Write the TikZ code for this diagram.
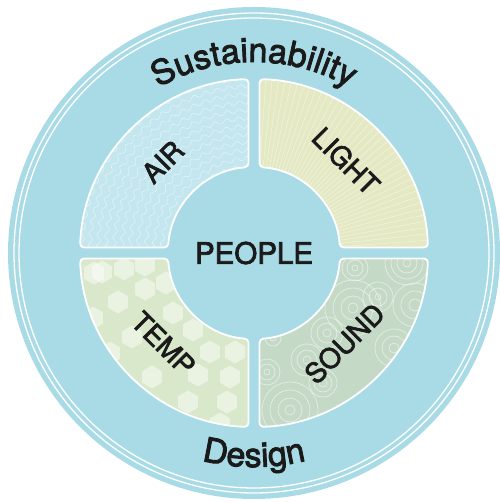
\documentclass[tikz,border=0pt]{standalone}
\usepackage{fontspec}
\setmainfont{TeX Gyre Heros}
\newfontfamily\heavy{TeX Gyre Heros}[FakeBold=2.5]
\usetikzlibrary{decorations.text,decorations.pathmorphing,calc}
\definecolor{outerblue}{HTML}{A9DBE6}
\definecolor{airc}{HTML}{C4E6EF}
\definecolor{lightc}{HTML}{E4E9C3}
\definecolor{tempc}{HTML}{D9E8CB}
\definecolor{soundc}{HTML}{C4D9C6}
\definecolor{textc}{HTML}{1A1A1A}
\tikzset{
  sectorpath/.style={insert path={
    ($({#1+3.67}:86)!0.5!({#1+1.81}:174)$) -- ({#1+1.81}:174)
    arc[start angle={#1+1.81}, end angle={#1+88.19}, radius=174]
    -- ({#1+86.33}:86)
    arc[start angle={#1+86.33}, end angle={#1+3.67}, radius=86] -- cycle}},
  secborder/.style={draw=white, line width=1.8pt, rounded corners=4pt},
  lab/.style={text=textc, font=\heavy\fontsize{27.5}{27.5}\selectfont, inner sep=0pt},
  hexa/.style={fill=white, fill opacity=0.45},
  ripple/.style={draw=white, draw opacity=0.5, line width=0.8pt},
  ray/.style={draw=white, draw opacity=0.6, line width=0.4pt},
  wave/.style={draw=white, draw opacity=0.6, line width=0.45pt, decorate,
    decoration={snake, amplitude=2pt, segment length=12pt}}
}
\newcommand\hexat[1]{\fill[hexa] (#1) +(90:11.5) -- +(150:11.5) -- +(210:11.5) -- +(270:11.5) -- +(330:11.5) -- +(30:11.5) -- cycle;}
\newcommand\ringsat[2]{\foreach \rr in {#2} {\draw[ripple] (#1) circle (\rr);}}
\begin{document}
\begin{tikzpicture}[x=1pt,y=1pt]
\useasboundingbox (-254,-249) rectangle (245,253);
% outer disc
\fill[outerblue] (0,0) circle (246);
\draw[white, line width=1.3pt] (0,0) circle (240);
\draw[white, line width=1.3pt] (0,0) circle (235);
% AIR sector (top-left)
\begin{scope}
  \path[clip, rounded corners=4pt, sectorpath=90];
  \fill[airc] (-180,-5) rectangle (5,180);
  \foreach \r in {84,92,...,180} {\draw[wave] (0,0) circle (\r);}
\end{scope}
% LIGHT sector (top-right)
\begin{scope}
  \path[clip, rounded corners=4pt, sectorpath=0];
  \fill[lightc] (-5,-5) rectangle (180,180);
  \foreach \a in {0,2.1,...,90} {\draw[ray] (0,0) -- (\a:180);}
\end{scope}
% TEMP sector (bottom-left)
\begin{scope}
  \path[clip, rounded corners=4pt, sectorpath=180];
  \fill[tempc] (-180,-180) rectangle (5,5);
  \hexat{-152,-19}\hexat{-130,-16}\hexat{-109,-12}\hexat{-109,-36}
  \hexat{-88,-30}\hexat{-136,-49}\hexat{-161,-65}\hexat{-81,-60}
  \hexat{-122,-84}\hexat{-61,-77}\hexat{-144,-100}\hexat{-44,-99}
  \hexat{-19,-99}\hexat{-102,-124}\hexat{-56,-122}\hexat{-24,-124}
  \hexat{-66,-149}\hexat{-27,-149}\hexat{-34,-171}\hexat{-160,-20}
\end{scope}
% SOUND sector (bottom-right)
\begin{scope}
  \path[clip, rounded corners=4pt, sectorpath=270];
  \fill[soundc] (-5,-180) rectangle (180,5);
  \ringsat{101,-15}{3,8,13}
  \ringsat{153,-10}{4,10,16,22}
  \ringsat{124,-44}{3,9,15}
  \ringsat{99,-55}{5,12,20,28}
  \ringsat{73,-80}{4,10,16}
  \ringsat{53,-107}{4,10,16}
  \ringsat{13,-119}{3,8,13}
  \ringsat{36,-157}{5,12,20,28}
  \ringsat{69,-130}{4,9,14}
  \ringsat{161,-52}{6,14,22}
  \ringsat{19,-85}{3,8}
  \ringsat{140,-95}{5,12,19}
\end{scope}
% sector borders
\path[secborder, sectorpath=0];
\path[secborder, sectorpath=90];
\path[secborder, sectorpath=180];
\path[secborder, sectorpath=270];
% labels
\node[lab, rotate=45] (air) at (135:129) {AIR};
\node[lab, rotate=-45] (light) at (45:130) {LIGHT};
\node[lab, rotate=-45] (temp) at (225:128) {TEMP};
\node[lab, rotate=45] (sound) at (-45:128) {SOUND};
\node[text=textc, font=\heavy\fontsize{29.5}{29.5}\selectfont, inner sep=0pt] (people) at (0,0) {PEOPLE};
% arc texts
\path[decorate, decoration={text along path, text color=textc,
  text={|\heavy\fontsize{34}{34}\selectfont|Sustainability}, text align=center}]
  (180:191) arc[start angle=180, end angle=0, radius=191];
\path[decorate, decoration={text along path, text color=textc,
  text={|\heavy\fontsize{34}{34}\selectfont|Design}, text align=center}]
  (180:214) arc[start angle=180, end angle=360, radius=214];
\end{tikzpicture}
\end{document}
